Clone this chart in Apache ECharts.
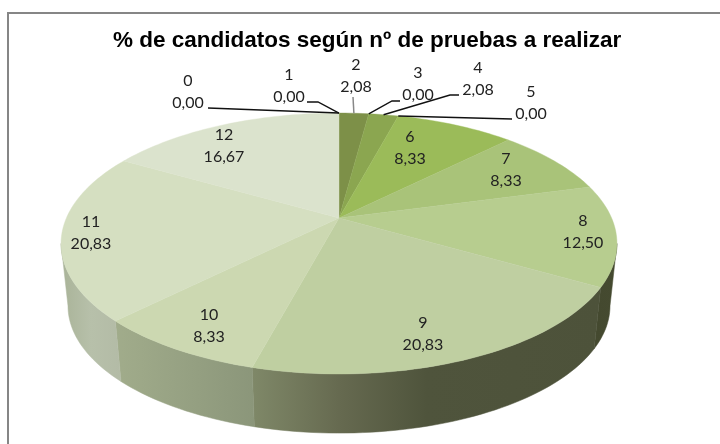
<!DOCTYPE html>
<html><head><meta charset="utf-8">
<style>html,body{margin:0;padding:0;background:#fff}#c{width:720px;height:444px}</style>
<script src="https://cdn.jsdelivr.net/npm/echarts@6/dist/echarts.min.js"></script>
</head><body><div id="c"></div>
<script>
const titleText = '% de candidatos según nº de pruebas a realizar';
const categories = ['0','1','2','3','4','5','6','7','8','9','10','11','12'];
const percentages = [0.00,0.00,2.08,0.00,2.08,0.00,8.33,8.33,12.50,20.83,8.33,20.83,16.67];
const valueLabels = ['0,00','0,00','2,08','0,00','2,08','0,00','8,33','8,33','12,50','20,83','8,33','20,83','16,67'];

// Style and layout, kept apart from the data
const faceColors = ['#7d9048','#7d9048','#7d9048','#8ba650','#8ba650','#8ba650','#9bbb59','#a9c379','#b7cd8f','#bfcfa1','#ccd8b1','#d5dfc1','#dbe3cd'];
const wallStops = {
  8:[[0,'#44492f'],[1,'#454a30']],
  9:[[0,'#7f8868'],[0.25,'#666a50'],[0.5,'#4f543c'],[1,'#4d523a']],
  10:[[0,'#a1ac8b'],[1,'#8b967a']],
  11:[[0,'#a9b398'],[0.5,'#b7c0aa'],[1,'#b3bba6']]
};
// label centre (x, y between the two lines)
const labelAt = [[188,92],[289,86],[356,76],[418,84],[478,79],[531,103],[410,148],[506,170],[583,232],[423,334],[209,326],[91,233],[224,146]];
// leader line: elbow + end, only for outside labels
const leaders = {0:[[208,108]],1:[[318,102],[307,102]],2:[[353,97]],3:[[392,101],[400,101]],4:[[450,95],[459,95]],5:[[512,119]]};
const leaderColor = {2:'#888888'};

const cx=339, cy=218, A=272.6, B=125.5, k=0.1955;
const wallScale=0.975, wallCy=281;
const tangent=Math.acos(-k)*180/Math.PI, frontFrom=tangent, frontTo=360-tangent;
function rim(deg, scale, yc){
  const t=deg*Math.PI/180, u=Math.sin(t), v=-Math.cos(t), w=1-k*v;
  return [cx+scale*A*u/w, yc+scale*B*v/w];
}
const total = percentages.reduce((a,b)=>a+b,0);
const spans=[]; let acc=0;
percentages.forEach(p=>{const s=acc/total*360; acc+=p; spans.push([s,acc/total*360]);});
function arc(a,b,scale,yc){
  const n=Math.max(2,Math.ceil((b-a)/1.5)), pts=[];
  for(let i=0;i<=n;i++) pts.push(rim(a+(b-a)*i/n,scale,yc));
  return pts;
}
const rows = categories.map((c,i)=>[i,percentages[i]]);

function renderWall(params){
  const i=params.dataIndex;
  const a=Math.max(spans[i][0],frontFrom), b=Math.min(spans[i][1],frontTo);
  if(b<=a||!wallStops[i]) return {type:'group',children:[]};
  const top=arc(a,b,1,cy), bot=arc(a,b,wallScale,wallCy);
  const pts=top.concat(bot.slice().reverse());
  const xs=pts.map(p=>p[0]); const x0=Math.min(...xs), x1=Math.max(...xs);
  const fill=new echarts.graphic.LinearGradient(x0,0,x1,0,wallStops[i].map(s=>({offset:s[0],color:s[1]})),true);
  return {type:'polygon',silent:true,shape:{points:pts},style:{fill:fill,stroke:fill,lineWidth:0.5}};
}
function renderFace(params){
  const i=params.dataIndex,[a,b]=spans[i];
  if(b<=a) return {type:'group',children:[]};
  const pts=[[cx,cy]].concat(arc(a,b,1,cy));
  return {type:'polygon',shape:{points:pts},silent:true,
    style:{fill:faceColors[i],stroke:faceColors[i],lineWidth:0.4}};
}
function renderLabel(params){
  const i=params.dataIndex,[a,b]=spans[i],kids=[];
  if(leaders[i]){
    const pts=[rim((a+b)/2,1,cy)].concat(leaders[i]);
    kids.push({type:'polyline',shape:{points:pts},silent:true,
      style:{fill:null,stroke:leaderColor[i]||'#111',lineWidth:leaderColor[i]?1.5:1.4}});
  }
  kids.push({type:'text',silent:true,style:{x:labelAt[i][0],y:labelAt[i][1],
    text:categories[i]+'\n'+valueLabels[i],align:'center',verticalAlign:'middle',
    font:'16px Lato',lineHeight:22.5,fill:'#222'}});
  return {type:'group',children:kids};
}
const dims=['index','percent'];
const chart=echarts.init(document.getElementById('c'),null,{renderer:'canvas'});
chart.setOption({
  animation:false,
  backgroundColor:'#fff',
  title:{text:titleText,left:113,top:29,textStyle:{fontFamily:'Liberation Sans',fontWeight:'bold',fontSize:22.5,color:'#000'},padding:0},
  graphic:[
    {type:'line',shape:{x1:8,y1:13,x2:720,y2:13},style:{stroke:'#868686',lineWidth:2}},
    {type:'line',shape:{x1:8,y1:12,x2:8,y2:444},style:{stroke:'#868686',lineWidth:2}}
  ],
  series:[
    {type:'custom',coordinateSystem:'none',z:2,dimensions:dims,data:rows,renderItem:renderWall,encode:{value:1}},
    {type:'custom',coordinateSystem:'none',z:3,dimensions:dims,data:rows,renderItem:renderFace,encode:{value:1}},
    {type:'custom',coordinateSystem:'none',z:4,dimensions:dims,data:rows,renderItem:renderLabel,encode:{value:1}}
  ]
});
</script></body></html>
